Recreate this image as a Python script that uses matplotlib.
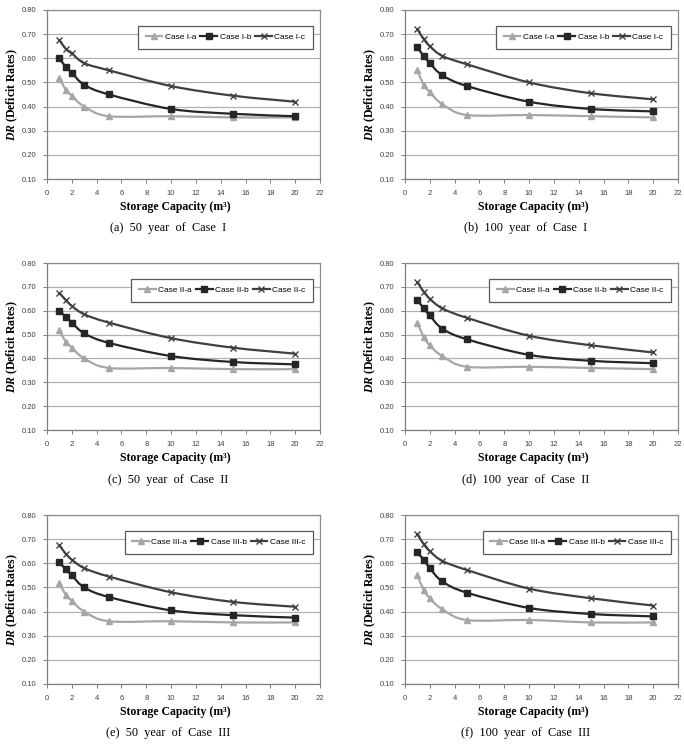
import numpy as np
import matplotlib
matplotlib.use("Agg")
from matplotlib import pyplot as plt
from matplotlib.path import Path
from matplotlib.patches import PathPatch
from matplotlib.lines import Line2D

plt.rcParams["mathtext.fontset"] = "custom"
plt.rcParams["mathtext.rm"] = "Liberation Serif"
plt.rcParams["mathtext.bfit"] = "Liberation Serif:italic:bold"

capacity = [1, 1.5, 2, 3, 5, 10, 15, 20]

captions = ["(a)  50  year  of  Case  I", "(b)  100  year  of  Case  I",
            "(c)  50  year  of  Case  II", "(d)  100  year  of  Case  II",
            "(e)  50  year  of  Case  III", "(f)  100  year  of  Case  III"]
case_names = ["I", "I", "II", "II", "III", "III"]

dr_a = [
    [0.52, 0.47, 0.445, 0.40, 0.36, 0.36, 0.355, 0.355],
    [0.55, 0.49, 0.46, 0.41, 0.365, 0.365, 0.36, 0.355],
    [0.52, 0.47, 0.445, 0.40, 0.36, 0.36, 0.355, 0.355],
    [0.55, 0.49, 0.455, 0.41, 0.365, 0.365, 0.36, 0.355],
    [0.52, 0.47, 0.445, 0.40, 0.36, 0.36, 0.355, 0.355],
    [0.55, 0.49, 0.455, 0.41, 0.365, 0.365, 0.355, 0.355],
]
dr_b = [
    [0.60, 0.565, 0.54, 0.49, 0.45, 0.39, 0.37, 0.36],
    [0.645, 0.61, 0.58, 0.53, 0.485, 0.42, 0.39, 0.38],
    [0.60, 0.575, 0.55, 0.505, 0.465, 0.41, 0.385, 0.375],
    [0.645, 0.61, 0.58, 0.525, 0.48, 0.415, 0.39, 0.38],
    [0.605, 0.575, 0.55, 0.50, 0.46, 0.405, 0.385, 0.375],
    [0.645, 0.615, 0.58, 0.525, 0.478, 0.415, 0.39, 0.38],
]
dr_c = [
    [0.675, 0.64, 0.62, 0.58, 0.55, 0.485, 0.445, 0.42],
    [0.72, 0.68, 0.65, 0.61, 0.575, 0.50, 0.455, 0.43],
    [0.675, 0.645, 0.62, 0.585, 0.55, 0.485, 0.445, 0.42],
    [0.72, 0.68, 0.65, 0.61, 0.57, 0.495, 0.455, 0.425],
    [0.675, 0.64, 0.615, 0.58, 0.545, 0.48, 0.44, 0.42],
    [0.72, 0.68, 0.65, 0.61, 0.572, 0.495, 0.455, 0.425],
]

colors = ["#a6a6a6", "#262626", "#404040"]
markers = ["^", "s", "x"]
suffix = ["a", "b", "c"]


def smooth_path(x, y):
    # catmull-rom style bezier through the points, like excel smoothed lines
    p = np.column_stack([x, y])
    verts = [p[0]]
    codes = [Path.MOVETO]
    n = len(p)
    for i in range(n - 1):
        p0 = p[i - 1] if i > 0 else p[i]
        p3 = p[i + 2] if i + 2 < n else p[i + 1]
        c1 = p[i] + (p[i + 1] - p0) / 6
        c2 = p[i + 1] - (p3 - p[i]) / 6
        verts += [c1, c2, p[i + 1]]
        codes += [Path.CURVE4] * 3
    return Path(verts, codes)


fig = plt.figure(figsize=(6.84, 7.45), dpi=100)
W, H = 684, 745
lefts = [47, 405]
tops = [10, 263, 515]
bottoms = [179, 430, 684]
caption_y = [228, 480, 733]

for k in range(6):
    r, c = k // 2, k % 2
    l = lefts[c]
    ax = fig.add_axes([l / W, 1 - bottoms[r] / H, 273 / W, (bottoms[r] - tops[r]) / H])
    series = [dr_a[k], dr_b[k], dr_c[k]]
    handles = []
    for j in range(3):
        ax.add_patch(PathPatch(smooth_path(capacity, series[j]), fill=False,
                               edgecolor=colors[j], lw=1.6, zorder=3))
        ms = 4.5 if j == 1 else 5
        ax.plot(capacity, series[j], ls="none", marker=markers[j], ms=ms,
                color=colors[j], mew=1.0, zorder=4)
        handles.append(Line2D([], [], color=colors[j], lw=1.6, marker=markers[j],
                              ms=ms, mew=1.0))
    ax.set_xlim(0, 22)
    ax.set_ylim(0.10, 0.80)
    ax.set_xticks(np.arange(0, 23, 2))
    ax.set_yticks(np.arange(0.10, 0.81, 0.10))
    ax.set_yticklabels(["%.2f" % v for v in np.arange(0.10, 0.81, 0.10)])
    ax.yaxis.grid(True, color="#b0b0b0", lw=0.9)
    ax.set_axisbelow(True)
    for s in ["top", "right"]:
        ax.spines[s].set_color("#8c8c8c")
        ax.spines[s].set_linewidth(0.9)
    for s in ["left", "bottom"]:
        ax.spines[s].set_color("#7f7f7f")
        ax.spines[s].set_linewidth(0.9)
    ax.tick_params(labelsize=5.5, length=3, width=0.7, color="#7f7f7f",
                   labelcolor="#404040", pad=5)
    for t in ax.get_xticklabels() + ax.get_yticklabels():
        t.set_fontfamily("Liberation Sans")
    ax.set_xlabel("Storage Capacity (m³)", fontfamily="Liberation Serif",
                  fontweight="bold", fontsize=8.5)
    ax.xaxis.set_label_coords(0.47, -0.13)
    ax.set_ylabel("$\\mathbfit{DR}$ (Deficit Rates)", fontfamily="Liberation Serif",
                  fontweight="bold", fontsize=8.5, labelpad=1)
    labels = ["Case %s-%s" % (case_names[k], s) for s in suffix]
    leg = ax.legend(handles, labels, ncol=3, loc="upper right",
                    bbox_to_anchor=(0.974, 0.905),
                    fancybox=False, edgecolor="#595959", framealpha=1,
                    prop={"family": "Liberation Sans", "size": 6},
                    handlelength=2.0, handletextpad=0.3, columnspacing=0.5,
                    borderpad=0.9, borderaxespad=0)
    leg.get_frame().set_linewidth(0.9)
    fig.text((l + 121) / W, 1 - caption_y[r] / H, captions[k], ha="center",
             va="center", fontfamily="Liberation Serif", fontsize=8.8)

fig.savefig("out.png", dpi=100)
